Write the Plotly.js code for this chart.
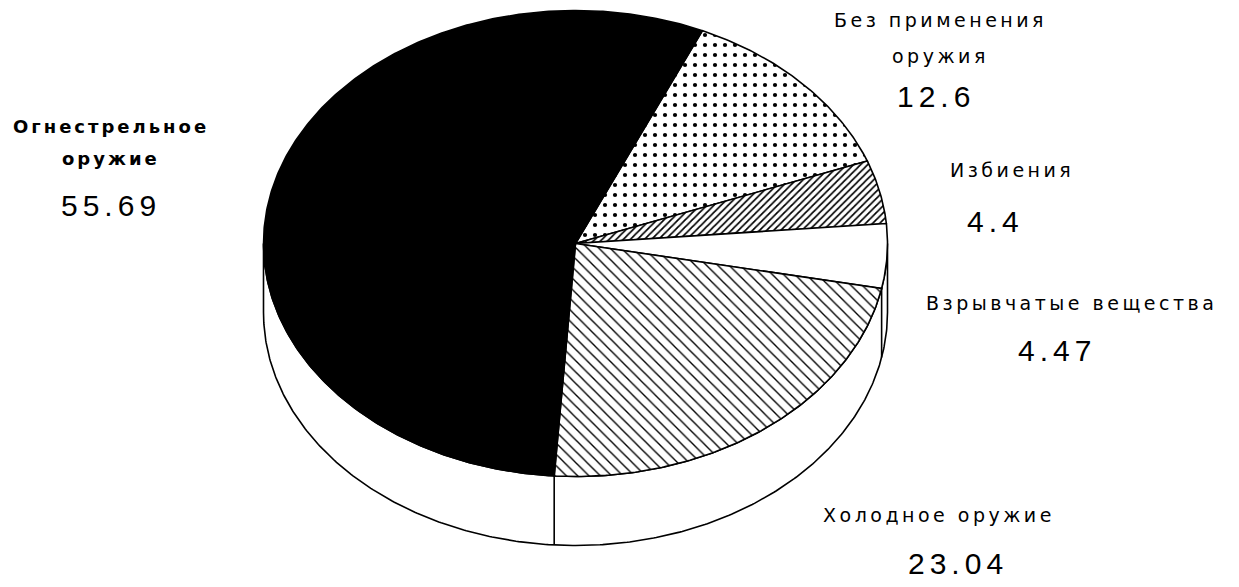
<!DOCTYPE html>
<html><head><meta charset="utf-8">
<script src="https://cdn.plot.ly/plotly-3.0.1.min.js"></script>
<style>html,body{margin:0;padding:0;background:#fff;overflow:hidden}</style>
</head><body><div id="chart" style="width:1239px;height:587px"></div>
<script>
// ---- data ----
const categories = ['Без применения<br>оружия', 'Избиения', 'Взрывчатые вещества', 'Холодное оружие', 'Огнестрельное<br>оружие'];
const values = [12.6, 4.4, 4.47, 23.04, 55.69];
const valueLabels = ['12.6', '4.4', '4.47', '23.04', '55.69'];

// ---- styling / geometry (layout, not data) ----
const CX = 575.5, CY = 243.5, RX = 312, RY = 233, DEPTH = 69, START = 66;
const sliceStyles = [
  {fillcolor: '#fff', fillpattern: {shape: '.', size: 10, solidity: 0.14, fgcolor: '#000', bgcolor: '#fff', fgopacity: 1}},
  {fillcolor: '#fff', fillpattern: {shape: '/', size: 5, solidity: 0.34, fgcolor: '#000', bgcolor: '#fff', fgopacity: 1}},
  {fillcolor: '#fff'},
  {fillcolor: '#fff', fillpattern: {shape: '\\', size: 8, solidity: 0.17, fgcolor: '#000', bgcolor: '#fff', fgopacity: 1}},
  {fillcolor: '#000'}
];
const labelPos = [
  {x: 940, ys: [20, 56], vx: 936, vy: 96, bold: false},
  {x: 1012, ys: [170], vx: 995, vy: 221, bold: false},
  {x: 1071, ys: [303], vx: 1057, vy: 350, bold: false},
  {x: 939, ys: [515], vx: 958, vy: 563, bold: false},
  {x: 111, ys: [126, 158], vx: 111, vy: 205, bold: true}
];

function pt(deg, dy) {
  const r = deg * Math.PI / 180;
  return [CX + RX * Math.cos(r), CY - RY * Math.sin(r) + (dy || 0)];
}

const traces = [];
// side band of the 3D pie
(function () {
  const xs = [], ys = [];
  for (let d = 180; d <= 360; d += 0.5) { const p = pt(d); xs.push(p[0]); ys.push(p[1]); }
  for (let d = 360; d >= 180; d -= 0.5) { const p = pt(d, DEPTH); xs.push(p[0]); ys.push(p[1]); }
  xs.push(xs[0]); ys.push(ys[0]);
  traces.push({type: 'scatter', mode: 'lines', x: xs, y: ys, fill: 'toself', fillcolor: '#fff',
    line: {color: '#000', width: 1.6}, hoverinfo: 'skip', showlegend: false});
})();

const total = values.reduce((s, v) => s + v, 0);
const boundaries = [START];
let ang = START;
values.forEach((v, i) => {
  const sweep = v / total * 360;
  const xs = [CX], ys = [CY];
  const n = Math.max(2, Math.ceil(sweep / 0.5));
  for (let k = 0; k <= n; k++) { const p = pt(ang - sweep * k / n); xs.push(p[0]); ys.push(p[1]); }
  xs.push(CX); ys.push(CY);
  const t = {type: 'scatter', mode: 'lines', x: xs, y: ys, fill: 'toself',
    fillcolor: sliceStyles[i].fillcolor, line: {color: '#000', width: 1.6},
    hoverinfo: 'skip', showlegend: false, name: categories[i]};
  if (sliceStyles[i].fillpattern) t.fillpattern = sliceStyles[i].fillpattern;
  traces.push(t);
  ang -= sweep;
  boundaries.push(ang);
});

// vertical edges on the visible side
(function () {
  const xs = [], ys = [];
  boundaries.forEach(a => {
    if (Math.sin(a * Math.PI / 180) < -0.01) {
      const p = pt(a), q = pt(a, DEPTH);
      xs.push(p[0], q[0], null); ys.push(p[1], q[1], null);
    }
  });
  traces.push({type: 'scatter', mode: 'lines', x: xs, y: ys, line: {color: '#000', width: 1.6},
    hoverinfo: 'skip', showlegend: false});
})();

const annotations = [];
categories.forEach((c, i) => {
  const lp = labelPos[i];
  c.split('<br>').forEach((line, j) => {
    annotations.push({x: lp.x, y: lp.ys[j], xref: 'x', yref: 'y', showarrow: false,
      xanchor: 'center', yanchor: 'middle',
      text: '<span style="letter-spacing:' + (lp.bold ? 3 : 3.5) + 'px">' + (lp.bold ? '<b>' + line + '</b>' : line) + '</span>',
      font: {family: 'DejaVu Sans', size: lp.bold ? 18 : 19, color: '#000'}});
  });
  annotations.push({x: lp.vx, y: lp.vy, xref: 'x', yref: 'y', showarrow: false,
    xanchor: 'center', yanchor: 'middle',
    text: '<span style="letter-spacing:5px">' + valueLabels[i] + '</span>',
    font: {family: 'Liberation Sans, Arial, sans-serif', size: 30, color: '#000'}});
});

const layout = {
  width: 1239, height: 587,
  margin: {l: 0, r: 0, t: 0, b: 0},
  paper_bgcolor: '#fff', plot_bgcolor: '#fff',
  xaxis: {range: [0, 1239], visible: false, fixedrange: true},
  yaxis: {range: [587, 0], visible: false, fixedrange: true},
  annotations: annotations,
  showlegend: false
};
Plotly.newPlot('chart', traces, layout, {staticPlot: true, displayModeBar: false});
</script></body></html>
